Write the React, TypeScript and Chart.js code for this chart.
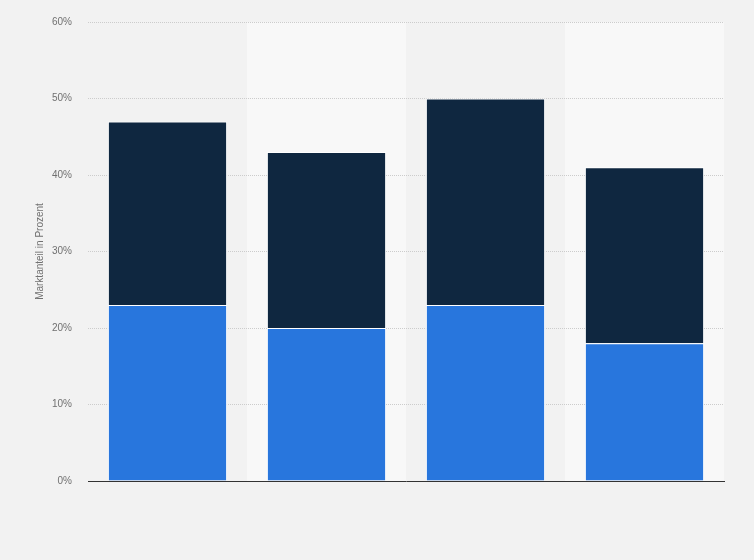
import React, { useEffect, useRef } from "react";
import { Chart, registerables } from "chart.js";

Chart.register(...registerables);

const categories = ["1", "2", "3", "4"];
const lowerSeries = [23, 20, 23, 18];
const upperSeries = [24, 23, 27, 23];
const yTicks = [0, 10, 20, 30, 40, 50, 60];

const bandPlugin = {
  id: "bands",
  beforeDraw(chart: any) {
    const { ctx, chartArea, scales } = chart;
    ctx.save();
    ctx.fillStyle = "#f2f2f2";
    ctx.fillRect(0, 0, chart.width, chart.height);
    const x = scales.x;
    const w = (chartArea.right - chartArea.left) / categories.length;
    ctx.fillStyle = "#f8f8f8";
    categories.forEach((_, i) => {
      if (i % 2 === 1) {
        const cx = x.getPixelForValue(i);
        ctx.fillRect(cx - w / 2, chartArea.top, w, chartArea.bottom - chartArea.top);
      }
    });
    ctx.restore();
  },
};

export default function App() {
  const ref = useRef<HTMLCanvasElement>(null);
  useEffect(() => {
    document.body.style.margin = "0";
    const chart = new Chart(ref.current!, {
      type: "bar",
      data: {
        labels: categories,
        datasets: [
          {
            data: lowerSeries,
            backgroundColor: "#2876dd",
            borderColor: "#ffffff",
            borderWidth: 1,
            barPercentage: 0.75,
            categoryPercentage: 1,
          },
          {
            data: upperSeries,
            backgroundColor: "#0f2740",
            borderColor: "#ffffff",
            borderWidth: 1,
            barPercentage: 0.75,
            categoryPercentage: 1,
          },
        ],
      },
      options: {
        animation: false,
        responsive: false,
        devicePixelRatio: 1,
        layout: { padding: { left: 0, top: 19, right: 30, bottom: 79 } },
        plugins: { legend: { display: false }, tooltip: { enabled: false } },
        scales: {
          x: {
            stacked: true,
            ticks: { display: false },
            grid: { display: false },
            border: { display: true, color: "#333333", width: 1 },
            afterFit(s: any) {
              s.height = 0;
            },
          },
          y: {
            stacked: true,
            min: 0,
            max: 60,
            afterBuildTicks(s: any) {
              s.ticks = yTicks.map((v) => ({ value: v }));
            },
            ticks: {
              padding: 16,
              color: "#707070",
              font: { family: "'Liberation Sans', Arial, sans-serif", size: 10 },
              callback: (v: any) => v + "%",
            },
            grid: {
              drawTicks: false,
              color: (c: any) => (c.tick && c.tick.value === 0 ? "rgba(0,0,0,0)" : "#cccccc"),
              lineWidth: 1,
            },
            border: { display: false, dash: [1, 1] },
            title: {
              display: true,
              text: "Marktanteil in Prozent",
              color: "#707070",
              font: { family: "'Liberation Sans', Arial, sans-serif", size: 10 },
              padding: { top: 34, bottom: 0 },
            },
            afterFit(s: any) {
              s.width = 88;
            },
          },
        },
      },
      plugins: [bandPlugin],
    });
    return () => chart.destroy();
  }, []);
  return (
    <div style={{ width: 754, height: 560, background: "#f2f2f2" }}>
      <canvas ref={ref} width={754} height={560} style={{ display: "block" }} />
    </div>
  );
}
